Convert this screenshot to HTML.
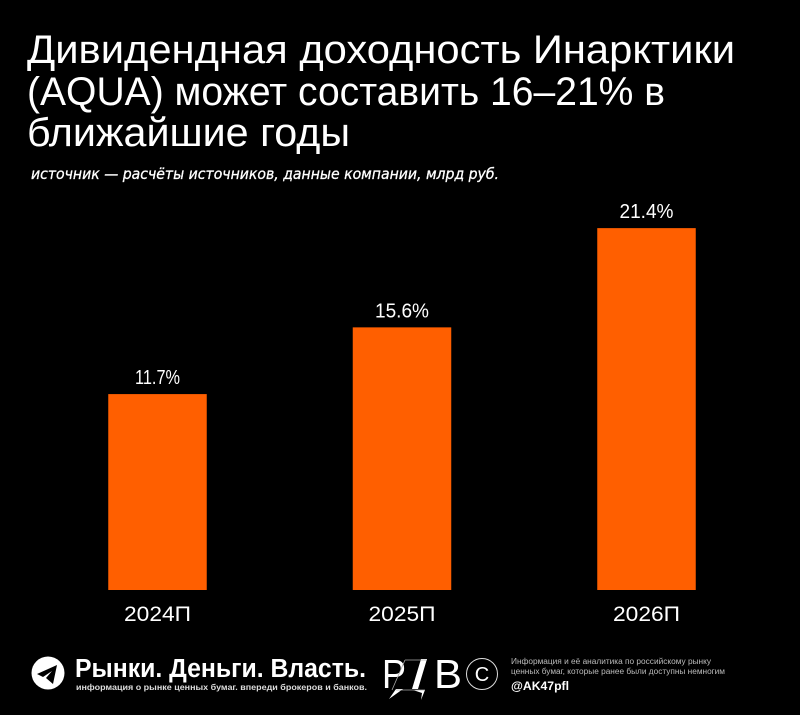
<!DOCTYPE html>
<html lang="ru">
<head>
<meta charset="utf-8">
<title>Дивидендная доходность Инарктики</title>
<style>
html,body{margin:0;padding:0;background:#000;}
body{width:800px;height:715px;overflow:hidden;position:relative;}
svg{position:absolute;left:0;top:0;display:block;}
text{font-family:"Liberation Sans","Noto Sans CJK SC",sans-serif;fill:#fff;}
</style>
</head>
<body>
<svg id="chart" width="800" height="715" viewBox="0 0 800 715" xmlns="http://www.w3.org/2000/svg">
  <rect x="0" y="0" width="800" height="715" fill="#000"/>
  <g font-size="40">
    <text x="27" y="63" textLength="708" lengthAdjust="spacingAndGlyphs">Дивидендная доходность Инарктики</text>
    <text x="27" y="105" textLength="638" lengthAdjust="spacingAndGlyphs">(AQUA) может составить 16–21% в</text>
    <text x="27" y="146" textLength="323" lengthAdjust="spacingAndGlyphs">ближайшие годы</text>
  </g>
  <text x="31" y="179" font-size="15" font-style="italic" stroke="#fff" stroke-width="0.3" style="font-family:'DejaVu Sans',sans-serif;fill:#fff" textLength="468" lengthAdjust="spacingAndGlyphs">источник — расчёты источников, данные компании, млрд руб.</text>
  <g id="bars"></g>
  <g>
    <circle cx="48" cy="673" r="16.5" fill="#fff"/>
    <path d="M37 674 L57 665 L53 684 L46 678 L52 671 L43 677 Z" fill="#000"/>
    <text x="75" y="677" font-size="25.5" font-weight="bold" textLength="291" lengthAdjust="spacingAndGlyphs">Рынки. Деньги. Власть.</text>
    <text x="76" y="690" font-size="8.5" font-weight="bold" style="fill:#ddd" textLength="291" lengthAdjust="spacingAndGlyphs">информация о рынке ценных бумаг. впереди брокеров и банков.</text>
  </g>
  <g>
    <text x="382" y="688" font-size="41" textLength="24" lengthAdjust="spacingAndGlyphs">P</text>
    <path d="M421 659 L427 659 L418 689 L412 689 Z M389 699 L396 689 L403 689 Z M413 690 L425 690 L421 700 L422 693 Z" fill="#fff"/>
    <path d="M405 660 L426 660 M405 660 L392 690 M396 690 L425 690" stroke="#aaa" stroke-width="0.8" fill="none"/>
    <text x="434" y="688" font-size="41" textLength="28" lengthAdjust="spacingAndGlyphs">B</text>
    <circle cx="482" cy="674" r="15.5" fill="none" stroke="#ddd" stroke-width="1"/>
    <text x="482" y="681" font-size="20" text-anchor="middle">C</text>
    <text x="511" y="664" font-size="8" style="fill:#bbb" textLength="200" lengthAdjust="spacingAndGlyphs">Информация и её аналитика по российскому рынку</text>
    <text x="511" y="674" font-size="8" style="fill:#bbb" textLength="214" lengthAdjust="spacingAndGlyphs">ценных бумаг, которые ранее были доступны немногим</text>
    <text x="511" y="690" font-size="11.5" font-weight="bold" textLength="58" lengthAdjust="spacingAndGlyphs">@AK47pfl</text>
  </g>
</svg>
<script>
const categories = ["2024П", "2025П", "2026П"];
const seriesValues = [11.7, 15.6, 21.4];
const valueLabels = ["11.7%", "15.6%", "21.4%"];

const svgNS = "http://www.w3.org/2000/svg";
const barsGroup = document.getElementById("bars");
const baselineY = 590;
const barWidth = 98.5;

function xScale(i) {
  return 157.5 + i * 244.5;
}
function yScale(v) {
  return baselineY - (v - 0.25) * 17.11;
}
function valueLabelWidth(text) {
  return text.indexOf("11") >= 0 ? 45 : 54;
}

categories.forEach(function (cat, i) {
  const cx = xScale(i);
  const top = yScale(seriesValues[i]);

  const bar = document.createElementNS(svgNS, "rect");
  
  
  bar.setAttribute("x", cx - barWidth / 2);
  bar.setAttribute("y", top);
  bar.setAttribute("width", barWidth);
  bar.setAttribute("height", baselineY - top);
  bar.setAttribute("fill", "#ff5f00");
  barsGroup.appendChild(bar);

  const value = document.createElementNS(svgNS, "text");
  
  
  value.setAttribute("x", cx);
  value.setAttribute("y", top - 10);
  value.setAttribute("font-size", "20");
  value.setAttribute("text-anchor", "middle");
  value.setAttribute("textLength", valueLabelWidth(valueLabels[i]));
  value.setAttribute("lengthAdjust", "spacingAndGlyphs");
  value.textContent = valueLabels[i];
  barsGroup.appendChild(value);

  const label = document.createElementNS(svgNS, "text");
  
  
  label.setAttribute("x", cx);
  label.setAttribute("y", 621);
  label.setAttribute("font-size", "21");
  label.setAttribute("text-anchor", "middle");
  label.setAttribute("textLength", "67");
  label.setAttribute("lengthAdjust", "spacingAndGlyphs");
  label.textContent = cat;
  barsGroup.appendChild(label);
});
</script>
</body>
</html>
